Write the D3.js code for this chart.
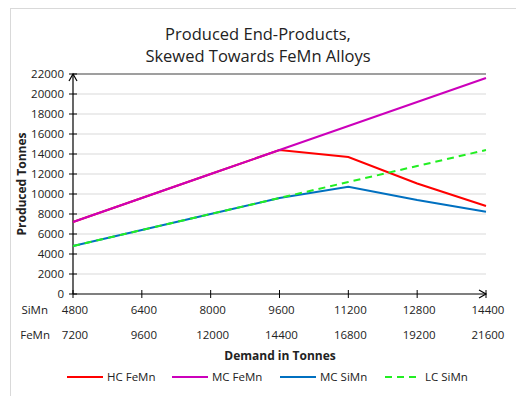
<!DOCTYPE html>
<html>
<head>
<meta charset="utf-8">
<script src="https://cdn.jsdelivr.net/npm/d3@7"></script>
<style>
  body { margin: 0; background: #fff; }
  text { font-family: "Open Sans", sans-serif; fill: #222; }
</style>
</head>
<body>
<svg id="chart"></svg>
<script>
// demand steps (two tick rows share one position)
const simnDemand = [4800, 6400, 8000, 9600, 11200, 12800, 14400];
const femnDemand = [7200, 9600, 12000, 14400, 16800, 19200, 21600];

const hcFeMn = [7200, 9600, 12000, 14400, 13700, 11050, 8800];
const mcFeMn = [7200, 9600, 12000, 14400, 16800, 19200, 21600];
const mcSiMn = [4800, 6400, 8000, 9600, 10730, 9400, 8230];
const lcSiMn = [4800, 6400, 8000, 9600, 11200, 12800, 14400];

const yTicks = d3.range(0, 22001, 2000);

const series = [
    { name: "HC FeMn", values: hcFeMn, color: "#ff0000", dash: null },
    { name: "MC FeMn", values: mcFeMn, color: "#cc00bb", dash: null },
    { name: "MC SiMn", values: mcSiMn, color: "#0070c0", dash: null },
    { name: "LC SiMn", values: lcSiMn, color: "#22ee22", dash: "7,5" }
];

const width = 516;
const height = 396;

const svg = d3.select("#chart")
    .attr("width", width)
    .attr("height", height);

// chart frame
svg.append("rect")
    .attr("x", 10.5).attr("y", 8.5)
    .attr("width", 520).attr("height", 400)
    .attr("fill", "none")
    .attr("stroke", "#d9d9d9");

const x = d3.scaleLinear().domain([4800, 14400]).range([73, 486]);
const y = d3.scaleLinear().domain([0, 22000]).range([294, 74]);

// gridlines
svg.append("g")
    .selectAll("line")
    .data(yTicks.filter(d => d > 0 && d < 22000))
    .enter()
    .append("line")
    .attr("x1", 73).attr("x2", 486)
    .attr("y1", d => y(d)).attr("y2", d => y(d))
    .attr("stroke", "#d9d9d9");

// top border line
svg.append("line")
    .attr("x1", 73).attr("x2", 486)
    .attr("y1", y(22000)).attr("y2", y(22000))
    .attr("stroke", "#404040").attr("stroke-width", 1.2);

// y axis
const yAxis = svg.append("g").attr("transform", "translate(73,0)");
yAxis.append("line")
    .attr("y1", y(0)).attr("y2", y(22000))
    .attr("stroke", "#000").attr("stroke-width", 1.2);
yAxis.append("path")
    .attr("d", `M-4,${y(22000) + 7}L0,${y(22000)}L4,${y(22000) + 7}`)
    .attr("fill", "none").attr("stroke", "#000").attr("stroke-width", 1.2);
yAxis.selectAll(".tk")
    .data(yTicks)
    .enter()
    .append("line")
    .attr("x1", -4).attr("x2", 4)
    .attr("y1", d => y(d)).attr("y2", d => y(d))
    .attr("stroke", "#000");
yAxis.selectAll("text")
    .data(yTicks)
    .enter()
    .append("text")
    .attr("x", -9)
    .attr("y", d => y(d))
    .attr("dy", "0.35em")
    .attr("text-anchor", "end")
    .attr("font-size", 11.5)
    .text(d => d);

// x axis
const xAxis = svg.append("g");
xAxis.append("line")
    .attr("x1", 73).attr("x2", 486)
    .attr("y1", y(0)).attr("y2", y(0))
    .attr("stroke", "#000").attr("stroke-width", 1.2);
xAxis.append("path")
    .attr("d", `M479,${y(0) - 4}L486,${y(0)}L479,${y(0) + 4}`)
    .attr("fill", "none").attr("stroke", "#000").attr("stroke-width", 1.2);
xAxis.selectAll(".tk")
    .data(simnDemand)
    .enter()
    .append("line")
    .attr("x1", d => x(d)).attr("x2", d => x(d))
    .attr("y1", y(0) - 4).attr("y2", y(0) + 4)
    .attr("stroke", "#000");
xAxis.selectAll(".simn")
    .data(simnDemand)
    .enter()
    .append("text")
    .attr("x", d => x(d) + 2)
    .attr("y", 314)
    .attr("text-anchor", "middle")
    .attr("font-size", 11.5)
    .text(d => d);
xAxis.selectAll(".femn")
    .data(femnDemand)
    .enter()
    .append("text")
    .attr("x", (d, i) => x(simnDemand[i]) + 2)
    .attr("y", 339)
    .attr("text-anchor", "middle")
    .attr("font-size", 11.5)
    .text(d => d);
xAxis.append("text").attr("x", 48).attr("y", 314)
    .attr("text-anchor", "end").attr("font-size", 11.5).text("SiMn");
xAxis.append("text").attr("x", 50).attr("y", 339)
    .attr("text-anchor", "end").attr("font-size", 11.5).text("FeMn");

// series lines
const line = d3.line()
    .x((d, i) => x(simnDemand[i]))
    .y(d => y(d));

svg.append("g")
    .selectAll("path")
    .data(series)
    .enter()
    .append("path")
    .attr("d", d => line(d.values))
    .attr("fill", "none")
    .attr("stroke", d => d.color)
    .attr("stroke-width", 2)
    .attr("stroke-dasharray", d => d.dash);

// titles
const title = svg.append("text")
    .attr("x", 258).attr("text-anchor", "middle")
    .attr("font-size", 16.5);
title.append("tspan").attr("x", 258).attr("y", 40).text("Produced End-Products,");
title.append("tspan").attr("x", 258).attr("y", 62).text("Skewed Towards FeMn Alloys");

svg.append("text")
    .attr("transform", `translate(26,${y(11000)}) rotate(-90)`)
    .attr("text-anchor", "middle")
    .attr("font-size", 12)
    .attr("font-weight", "bold")
    .text("Produced Tonnes");

svg.append("text")
    .attr("x", 280).attr("y", 360)
    .attr("text-anchor", "middle")
    .attr("font-size", 12)
    .attr("font-weight", "bold")
    .text("Demand in Tonnes");

// legend
const legendX = [67, 172, 280, 385];
const legend = svg.append("g")
    .selectAll("g")
    .data(series)
    .enter()
    .append("g")
    .attr("transform", (d, i) => `translate(${legendX[i]},377)`);
legend.append("line")
    .attr("x1", 0).attr("x2", 36)
    .attr("stroke", d => d.color)
    .attr("stroke-width", 2)
    .attr("stroke-dasharray", d => d.dash);
legend.append("text")
    .attr("x", 40).attr("dy", "0.35em")
    .attr("font-size", 11.5)
    .text(d => d.name);
</script>
</body>
</html>
